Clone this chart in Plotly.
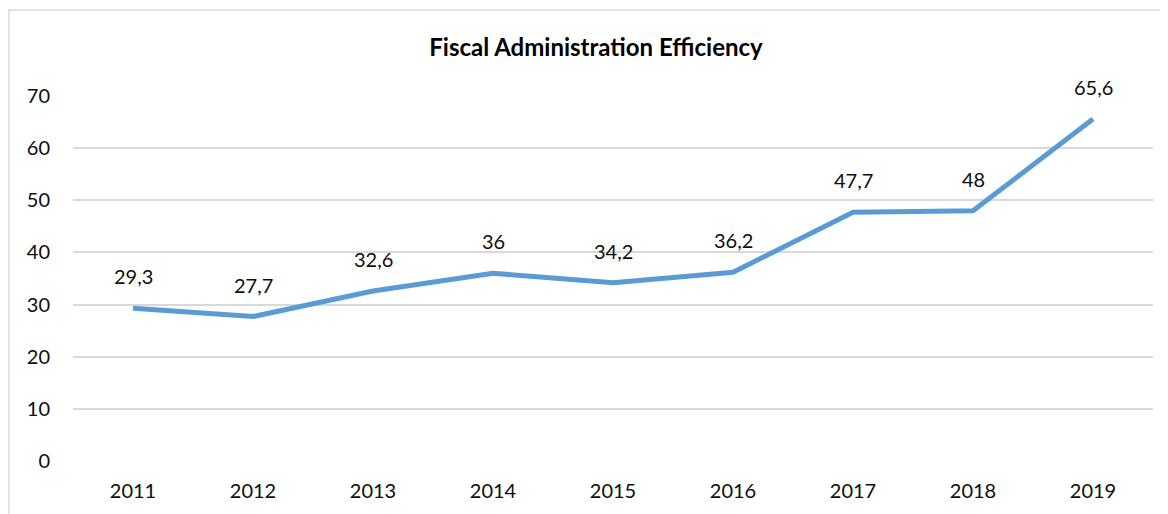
import plotly.graph_objects as go

years = ["2011", "2012", "2013", "2014", "2015", "2016", "2017", "2018", "2019"]
values = [29.3, 27.7, 32.6, 36, 34.2, 36.2, 47.7, 48, 65.6]
labels = ["29,3", "27,7", "32,6", "36", "34,2", "36,2", "47,7", "48", "65,6"]
y_ticks = [0, 10, 20, 30, 40, 50, 60, 70]

FONT = "Lato"
TXT = "#0d0d0d"
idx = list(range(len(years)))

fig = go.Figure()
fig.add_trace(go.Scatter(
    x=idx, y=values, mode="lines",
    line=dict(color="#5B9BD5", width=5, shape="linear"),
    hoverinfo="skip", showlegend=False,
))

for x, y, t in zip(idx, values, labels):
    fig.add_annotation(x=x, y=y, text=t, showarrow=False, yshift=32,
                       xref="x", yref="y",
                       font=dict(family=FONT, size=20, color=TXT))

W, H = 1160, 506
L, R, T, B = 65, 15, 88, 53
pw, ph = W - L - R, H - T - B

fig.add_shape(type="rect", xref="paper", yref="paper",
              x0=(1 - L) / pw, x1=(W + 10 - L) / pw,
              y0=-(B + 10) / ph, y1=1 + (T - 2) / ph,
              line=dict(color="#D9D9D9", width=1.5), fillcolor="rgba(0,0,0,0)", layer="below")

fig.update_layout(
    width=W, height=H,
    margin=dict(l=L, r=R, t=T, b=B),
    paper_bgcolor="white", plot_bgcolor="white",
    title=dict(text="<b>Fiscal Administration Efficiency</b>", x=588 / W,
               xanchor="center", y=1 - 40 / H, yanchor="middle",
               font=dict(family=FONT, size=24, color="#000")),
    xaxis=dict(tickvals=idx, ticktext=years, showgrid=False, zeroline=False, showline=False,
               ticks="", tickfont=dict(family=FONT, size=20, color=TXT),
               ticklabelstandoff=16, range=[-0.5, 8.5]),
    yaxis=dict(range=[0, 70], tickvals=y_ticks, showgrid=True, gridcolor="#D9D9D9",
               gridwidth=1.5, zeroline=False, showline=False, ticks="",
               tickfont=dict(family=FONT, size=20, color=TXT), ticklabelstandoff=22),
)

fig.write_html("out.html")
